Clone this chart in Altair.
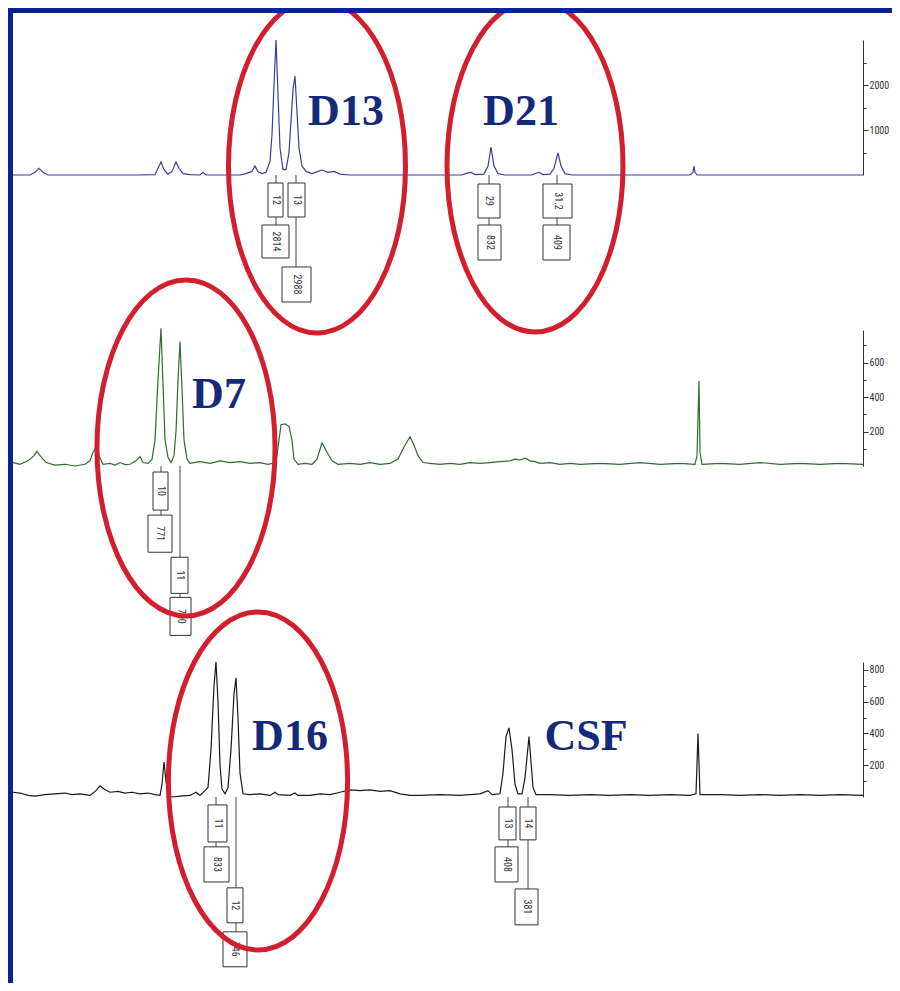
import altair as alt
import pandas as pd

# ---------------- data ----------------
# x = scan position (picture px), y = signal (RFU)
BLUE_X = [13, 30, 35, 39, 43, 48, 138, 155, 158, 161, 164, 168, 172, 176, 179, 183, 190, 200, 203, 206, 215,
          240, 246, 252, 255, 258, 262, 266, 270, 272, 274, 276, 278, 280, 283, 286, 289, 291, 293, 295, 297, 299,
          302, 306, 312, 318, 322, 328, 334, 340, 350, 462, 467, 471, 475, 484, 488, 491, 494, 498, 505,
          532, 536, 539, 543, 550, 554, 558, 561, 565, 572, 690, 693, 694, 695, 697, 863]
BLUE_Y = [0, 0, 60, 150, 60, 0, 0, 10, 150, 290, 120, 20, 80, 290, 150, 30, 10, 0, 60, 0, 0,
          0, 30, 80, 200, 70, 30, 60, 300, 900, 2000, 3000, 1800, 600, 120, 120, 500, 1200, 1900, 2200, 1400, 600,
          200, 80, 30, 80, 110, 60, 80, 20, 0, 0, 40, 60, 10, 20, 200, 620, 200, 30, 0,
          0, 40, 60, 10, 20, 150, 490, 200, 30, 0, 0, 60, 200, 60, 0, 0]

GREEN_X = [13, 20, 28, 34, 37, 40, 46, 55, 65, 75, 85, 90, 93, 96, 99, 103, 110, 115, 120, 125,
           130, 136, 140, 143, 148, 152, 155, 158, 161, 163, 165, 168, 171, 174, 176, 178, 180, 182, 184, 187,
           190, 200, 210, 220, 230, 240, 250, 260, 268, 276, 279, 281, 285, 289, 292, 294, 298, 305, 312, 317,
           322, 327, 332, 338, 350, 360, 370, 380, 390, 398, 404, 410, 414, 418, 423, 430, 440, 450, 460, 470,
           480, 490, 500, 510, 515, 520, 525, 530, 535, 540, 550, 560, 570, 580, 600, 620, 640, 660, 680, 695,
           697, 699, 700, 702, 720, 740, 760, 780, 800, 820, 840, 863]
GREEN_Y = [20, 10, 30, 60, 85, 60, 20, 5, 10, 0, 10, 30, 80, 110, 60, 10, 15, 5, 20, 8,
           10, 30, 55, 20, 15, 40, 150, 500, 800, 480, 150, 50, 20, 60, 200, 500, 723, 450, 150, 40,
           15, 25, 15, 30, 20, 25, 15, 20, 10, 20, 150, 240, 245, 230, 150, 40, 10, 15, 10, 40,
           135, 80, 30, 10, 15, 10, 20, 10, 15, 40, 110, 170, 120, 60, 20, 15, 10, 15, 10, 20,
           15, 20, 25, 30, 40, 35, 45, 30, 25, 15, 20, 10, 15, 10, 15, 10, 20, 10, 15, 10,
           60, 494, 80, 10, 15, 10, 20, 10, 15, 10, 15, 10]

BLACK_X = [13, 20, 28, 35, 45, 55, 65, 72, 80, 90, 96, 100, 104, 110, 118, 125, 132, 140, 148, 155,
           160, 162, 164, 166, 168, 172, 180, 190, 196, 200, 205, 208, 211, 214, 216, 218, 220, 222, 225, 228,
           231, 234, 236, 238, 240, 243, 250, 260, 270, 275, 278, 290, 295, 298, 310, 320, 330, 340, 350, 360,
           370, 380, 390, 400, 410, 420, 440, 460, 480, 488, 492, 500, 503, 506, 509, 512, 515, 518, 522, 525,
           527, 529, 531, 533, 536, 550, 570, 590, 610, 630, 650, 670, 690, 696, 698, 700, 720, 740, 760, 780,
           800, 820, 840, 863]
BLACK_Y = [30, 25, 10, 5, 15, 20, 25, 15, 20, 10, 40, 70, 50, 30, 35, 25, 30, 20, 25, 15,
           10, 80, 220, 100, 10, 0, 5, 10, 30, 10, 40, 60, 300, 700, 850, 600, 200, 50, 20, 60,
           300, 650, 750, 500, 150, 20, 15, 20, 10, 30, 15, 10, 25, 10, 10, 20, 15, 30, 45, 40,
           45, 35, 40, 20, 10, 10, 15, 10, 20, 40, 15, 20, 150, 380, 435, 300, 80, 20, 20, 120,
           250, 380, 220, 60, 15, 15, 10, 15, 10, 15, 10, 15, 10, 20, 400, 15, 15, 10, 15, 10,
           15, 10, 15, 10]

# allele / height call boxes
ANN1_TEXT = ["12", "13", "2814", "2988", "29", "832", "31.2", "409"]
ANN2_TEXT = ["10", "771", "11", "700"]
ANN3_TEXT = ["11", "833", "12", "746", "13", "14", "408", "381"]

# region names
NAMES1 = ["D13", "D21"]
NAMES2 = ["D7"]
NAMES3 = ["D16", "CSF"]

# axis ticks (RFU)
MAJ1, MIN1 = [1000, 2000], [500, 1500, 2500]
MAJ2, MIN2 = [200, 400, 600], [100, 300, 500, 700]
MAJ3, MIN3 = [200, 400, 600, 800], [100, 300, 500, 700]

# ---------------- layout (positions in data units) ----------------
ANN1_X0 = [268, 288, 262, 282, 478, 478, 543, 543]
ANN1_X1 = [283, 305, 289, 311, 500, 501, 572, 570]
ANN1_Y0 = [-178, -178, -1111, -2044, -200, -1111, -200, -1111]
ANN1_Y1 = [-933, -933, -1844, -2822, -956, -1889, -956, -1889]
CON1 = [(276, 0, -178), (276, -933, -1111), (296, 0, -178), (296, -933, -2044),
        (489, 0, -200), (489, -956, -1111), (557, 0, -200), (557, -956, -1111)]

ANN2_X0 = [153, 148, 171, 170]
ANN2_X1 = [168, 172, 188, 191]
ANN2_Y0 = [-35, -285, -530, -763]
ANN2_Y1 = [-256, -501, -740, -984]
CON2 = [(161, 0, -35), (161, -256, -285), (180, 0, -530), (180, -740, -763)]

ANN3_X0 = [208, 204, 227, 223, 499, 520, 495, 515]
ANN3_X1 = [227, 229, 243, 247, 516, 536, 518, 538]
ANN3_Y0 = [-50, -314, -572, -849, -63, -63, -314, -579]
ANN3_Y1 = [-283, -535, -792, -1069, -270, -270, -535, -805]
CON3 = [(216, 0, -50), (216, -283, -314), (236, 0, -572), (236, -792, -849),
        (508, 0, -63), (508, -270, -314), (528, 0, -63), (528, -270, -579)]

NAME1_POS = [(346, 1111), (521, 1111)]
NAME2_POS = [(219, 338)]
NAME3_POS = [(290, 296), (586, 296)]

ELL1 = [(317, 200, 334), (535, 200, 332)]   # x, y, ellipse height in px
ELL2 = [(186, 105, 336)]
ELL3 = [(258, 101, 338)]

# ---------------- styles / geometry ----------------
RED = "#d21f2d"
NAVY_TXT = "#14297a"
FRAME = "#0b2391"
AX = "#333333"
NARROW = "Liberation Sans Narrow, Roboto Condensed, DejaVu Sans Condensed, Liberation Sans, sans-serif"
ELLIPSE = "M 0 -1 A 0.53 1 0 0 1 0 1 A 0.53 1 0 0 1 0 -1 Z"

W, H = 884, 975
XS = alt.Scale(domain=[8, 863], range=[0, 855], nice=False, zero=False)


def panel(xs, ys, color, ydom, yrange, majors, minors,
          texts, x0, x1, y0, y1, cons, names, name_pos, ells):
    ysc = alt.Scale(domain=ydom, range=yrange, nice=False, zero=False)
    major_test = " || ".join(f"datum.value === {m}" for m in majors)
    axis = alt.Axis(orient="right", offset=-(W - 855), values=sorted(majors + minors), format="d",
                    labelExpr=f"({major_test}) ? datum.label : ''",
                    domain=True, domainColor=AX, domainWidth=1, grid=False, ticks=True,
                    tickSize={"condition": {"test": major_test, "value": 5}, "value": 3},
                    tickColor=AX, tickWidth=1, labelColor=AX, labelFont=NARROW,
                    labelFontSize=10, labelPadding=1, labelFlush=False, title=None)

    def Y(field):
        return alt.Y(field, scale=ysc, axis=axis)

    def X(field):
        return alt.X(field, scale=XS, axis=None)

    layers = []
    tr = pd.DataFrame({"pos": xs, "rfu": ys})
    layers.append(alt.Chart(tr).mark_line(color=color, strokeWidth=1.2).encode(
        x=X("pos:Q"), y=Y("rfu:Q")))

    cdf = pd.DataFrame(cons, columns=["pos", "a", "b"])
    layers.append(alt.Chart(cdf).mark_rule(color="#444444", strokeWidth=1).encode(
        x=X("pos:Q"), y=Y("a:Q"), y2="b:Q"))

    bdf = pd.DataFrame({"label": texts, "x0": x0, "x1": x1, "y0": y0, "y1": y1})
    layers.append(alt.Chart(bdf).mark_rect(fill="white", stroke="#333333", strokeWidth=1).encode(
        x=X("x0:Q"), x2="x1:Q", y=Y("y0:Q"), y2="y1:Q"))
    layers.append(alt.Chart(bdf).transform_calculate(
        xc="(datum.x0 + datum.x1) / 2", yc="(datum.y0 + datum.y1) / 2"
    ).mark_text(angle=90, fontSize=10, font=NARROW, color="#333333",
                align="center", baseline="middle").encode(
        x=X("xc:Q"), y=Y("yc:Q"), text="label:N"))

    edf = pd.DataFrame(ells, columns=["pos", "rfu", "h"])
    edf["sz"] = edf["h"] ** 2
    layers.append(alt.Chart(edf).mark_point(shape=ELLIPSE, filled=False, color=RED,
                                            strokeWidth=5, opacity=1).encode(
        x=X("pos:Q"), y=Y("rfu:Q"),
        size=alt.Size("sz:Q", scale=None, legend=None)))

    ndf = pd.DataFrame({"name": names, "pos": [p[0] for p in name_pos], "rfu": [p[1] for p in name_pos]})
    layers.append(alt.Chart(ndf).mark_text(font="Liberation Serif", fontWeight="bold", fontSize=44,
                                           color=NAVY_TXT, align="center", baseline="alphabetic").encode(
        x=X("pos:Q"), y=Y("rfu:Q"), text="name:N"))

    return alt.layer(*layers)


# y ranges in chart pixels: baseline and top of each trace's RFU axis
p1 = panel(BLUE_X, BLUE_Y, "#3b3ba6", [0, 3000], [167, 32], MAJ1, MIN1,
           ANN1_TEXT, ANN1_X0, ANN1_X1, ANN1_Y0, ANN1_Y1, CON1, NAMES1, NAME1_POS, ELL1)
p2 = panel(GREEN_X, GREEN_Y, "#2f6b32", [0, 790], [458, 322], MAJ2, MIN2,
           ANN2_TEXT, ANN2_X0, ANN2_X1, ANN2_Y0, ANN2_Y1, CON2, NAMES2, NAME2_POS, ELL2)
p3 = panel(BLACK_X, BLACK_Y, "#1a1a1a", [0, 850], [789, 654], MAJ3, MIN3,
           ANN3_TEXT, ANN3_X0, ANN3_X1, ANN3_Y0, ANN3_Y1, CON3, NAMES3, NAME3_POS, ELL3)

frame = pd.DataFrame({"k": [0]})
top_bar = alt.Chart(frame).mark_rect(color=FRAME).encode(
    x=alt.value(0), x2=alt.value(W), y=alt.value(0), y2=alt.value(5))
left_bar = alt.Chart(frame).mark_rect(color=FRAME).encode(
    x=alt.value(0), x2=alt.value(5), y=alt.value(0), y2=alt.value(H))

chart = alt.layer(p1, p2, p3, top_bar, left_bar).resolve_scale(y="independent").properties(
    width=W, height=H, padding=0, background="white",
    autosize=alt.AutoSizeParams(type="none"),
).configure_view(stroke=None)

chart.save("out.html", embed_options={"renderer": "svg", "actions": False})
